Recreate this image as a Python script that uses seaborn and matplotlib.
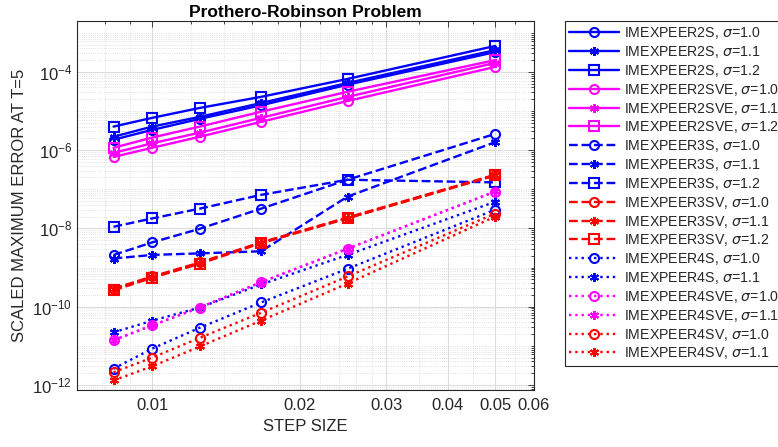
import numpy as np
import pandas as pd
import matplotlib
matplotlib.use("Agg")
import matplotlib.pyplot as plt
import matplotlib.ticker as mticker
import seaborn as sns

# ---------------- data ----------------
step = [1/120, 1/100, 1/80, 1/60, 1/40, 1/20]

e2s_10 = [1.85e-6, 3.3e-6, 6.3e-6, 1.4e-5, 4.7e-5, 3.2e-4]
e2s_11 = [2.2e-6, 4.0e-6, 7.1e-6, 1.6e-5, 5.2e-5, 3.6e-4]
e2s_12 = [4.0e-6, 6.7e-6, 1.2e-5, 2.3e-5, 6.6e-5, 4.6e-4]
e2sve_10 = [6.7e-7, 1.15e-6, 2.2e-6, 5.3e-6, 1.8e-5, 1.34e-4]
e2sve_11 = [8.5e-7, 1.5e-6, 2.8e-6, 6.7e-6, 2.3e-5, 1.7e-4]
e2sve_12 = [1.15e-6, 2.1e-6, 4.0e-6, 9.6e-6, 3.1e-5, 2.0e-4]
e3s_10 = [2.1e-9, 4.4e-9, 9.8e-9, 3.2e-8, 1.75e-7, 2.6e-6]
e3s_11 = [1.7e-9, 2.1e-9, 2.3e-9, 2.6e-9, 6.5e-8, 1.6e-6]
e3s_12 = [1.1e-8, 1.8e-8, 3.2e-8, 7.2e-8, 1.75e-7, 1.5e-7]
e3sv_10 = [2.9e-10, 5.9e-10, 1.35e-9, 4.4e-9, 1.9e-8, 2.35e-7]
e3sv_11 = [2.8e-10, 5.7e-10, 1.3e-9, 4.3e-9, 1.85e-8, 2.3e-7]
e3sv_12 = [2.6e-10, 5.5e-10, 1.25e-9, 4.2e-9, 1.8e-8, 2.25e-7]
e4s_10 = [2.6e-12, 8.5e-12, 2.9e-11, 1.28e-10, 9.3e-10, 3.0e-8]
e4s_11 = [2.2e-11, 4.4e-11, 9.5e-11, 3.7e-10, 2.1e-9, 4.8e-8]
e4sve_10 = [1.38e-11, 3.3e-11, 9.5e-11, 4.2e-10, 3.0e-9, 8.7e-8]
e4sve_11 = [1.4e-11, 3.35e-11, 9.6e-11, 4.25e-10, 3.05e-9, 8.8e-8]
e4sv_10 = [2.1e-12, 5.0e-12, 1.6e-11, 7.0e-11, 5.9e-10, 2.4e-8]
e4sv_11 = [1.3e-12, 3.0e-12, 9.6e-12, 4.4e-11, 3.9e-10, 2.0e-8]

labels = [
    r"IMEXPEER2S, $\sigma$=1.0", r"IMEXPEER2S, $\sigma$=1.1", r"IMEXPEER2S, $\sigma$=1.2",
    r"IMEXPEER2SVE, $\sigma$=1.0", r"IMEXPEER2SVE, $\sigma$=1.1", r"IMEXPEER2SVE, $\sigma$=1.2",
    r"IMEXPEER3S, $\sigma$=1.0", r"IMEXPEER3S, $\sigma$=1.1", r"IMEXPEER3S, $\sigma$=1.2",
    r"IMEXPEER3SV, $\sigma$=1.0", r"IMEXPEER3SV, $\sigma$=1.1", r"IMEXPEER3SV, $\sigma$=1.2",
    r"IMEXPEER4S, $\sigma$=1.0", r"IMEXPEER4S, $\sigma$=1.1",
    r"IMEXPEER4SVE, $\sigma$=1.0", r"IMEXPEER4SVE, $\sigma$=1.1",
    r"IMEXPEER4SV, $\sigma$=1.0", r"IMEXPEER4SV, $\sigma$=1.1",
]
series = [e2s_10, e2s_11, e2s_12, e2sve_10, e2sve_11, e2sve_12,
          e3s_10, e3s_11, e3s_12, e3sv_10, e3sv_11, e3sv_12,
          e4s_10, e4s_11, e4sve_10, e4sve_11, e4sv_10, e4sv_11]

xticks = [0.01, 0.02, 0.03, 0.04, 0.05, 0.06]
xticklabels = ["0.01", "0.02", "0.03", "0.04", "0.05", "0.06"]

# ---------------- styles ----------------
BLUE, MAG, RED = "#0000ff", "#ff00ff", "#ff0000"
AST = (6, 2, 0)
styles = [
    (BLUE, "-", "o"), (BLUE, "-", AST), (BLUE, "-", "s"),
    (MAG, "-", "o"), (MAG, "-", AST), (MAG, "-", "s"),
    (BLUE, "--", "o"), (BLUE, "--", AST), (BLUE, "--", "s"),
    (RED, "--", "o"), (RED, "--", AST), (RED, "--", "s"),
    (BLUE, ":", "o"), (BLUE, ":", AST),
    (MAG, ":", "o"), (MAG, ":", AST),
    (RED, ":", "o"), (RED, ":", AST),
]

sns.set_theme(style="white")
plt.rcParams["font.family"] = ["Liberation Sans", "DejaVu Sans"]
plt.rcParams["mathtext.fontset"] = "dejavusans"

fig = plt.figure(figsize=(7.78, 4.47), dpi=100)
ax = fig.add_axes([77/778, 1-390/447, (534-77)/778, (390-21)/447])

for lab, vals, (c, ls, mk) in zip(labels, series, styles):
    df = pd.DataFrame({"h": step, "err": vals})
    sns.lineplot(data=df, x="h", y="err", ax=ax, color=c, linestyle=ls,
                 linewidth=1.7, marker=mk, markersize=6.5,
                 markerfacecolor="none" if mk != AST else c,
                 markeredgecolor=c, markeredgewidth=1.5, label=lab,
                 legend=False, dashes=False)

ax.set_xscale("log")
ax.set_yscale("log")
ax.set_xlim(0.00702, 0.06)
ax.set_ylim(10**-12.13, 10**-2.70)

ax.xaxis.set_major_locator(mticker.FixedLocator(xticks))
ax.xaxis.set_major_formatter(mticker.FixedFormatter(xticklabels))
ax.xaxis.set_minor_locator(mticker.FixedLocator(
    [0.008, 0.009, 0.012, 0.014, 0.016, 0.018, 0.022, 0.024, 0.026, 0.028,
     0.035, 0.045, 0.055]))
ax.xaxis.set_minor_formatter(mticker.NullFormatter())

ax.yaxis.set_major_locator(mticker.FixedLocator([1e-12, 1e-10, 1e-8, 1e-6, 1e-4]))
ax.yaxis.set_major_formatter(mticker.LogFormatterMathtext())
yminor = [m * 10.0**e for e in range(-13, -2) for m in range(1, 10)
          if not (m == 1 and e % 2 == 0)]
ax.yaxis.set_minor_locator(mticker.FixedLocator(yminor))
ax.yaxis.set_minor_formatter(mticker.NullFormatter())

ax.grid(True, which="major", color="#dcdcdc", linewidth=0.8, linestyle="-")
ax.grid(True, which="minor", color="#d8d8d8", linewidth=0.6, linestyle=":")
ax.set_axisbelow(True)

for sp in ax.spines.values():
    sp.set_color("#262626")
    sp.set_linewidth(0.8)
ax.tick_params(which="both", direction="in", top=True, right=True,
               colors="#262626", labelsize=12, width=0.6)
ax.tick_params(which="major", length=4)
ax.tick_params(which="minor", length=2)
ax.tick_params(axis="x", pad=6)

ax.set_xlabel("STEP SIZE", fontsize=12, color="#262626")
ax.set_ylabel("SCALED MAXIMUM ERROR AT T=5", fontsize=12, color="#262626")
ax.set_title("Prothero-Robinson Problem", fontsize=12.5, fontweight="bold",
             color="#000000", pad=3)

handles, labs = ax.get_legend_handles_labels()
leg = fig.legend(handles, labs, loc="upper left", bbox_to_anchor=(565/778, 1-21/447),
                 fontsize=10.2, frameon=True, fancybox=False, edgecolor="#262626",
                 framealpha=1, handlelength=3.5, handletextpad=0.4,
                 labelspacing=0.2, borderpad=0.3, borderaxespad=0)
leg.get_frame().set_linewidth(0.8)

fig.savefig("out.png", dpi=100)
